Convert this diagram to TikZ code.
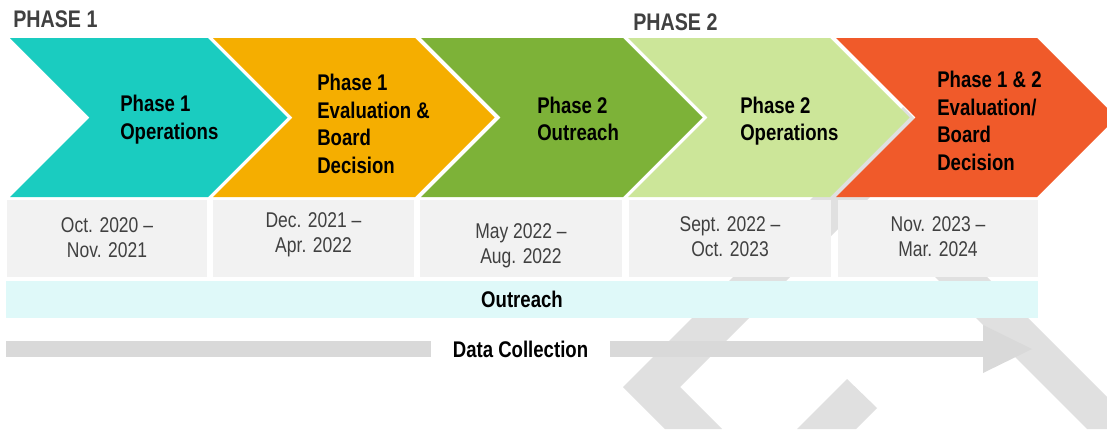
\documentclass[tikz,border=0pt]{standalone}
\usepackage{fontspec}
\setmainfont{Liberation Sans}[FakeStretch=0.82]
\usepackage{tikz}
\usetikzlibrary{arrows.meta}

\definecolor{chteal}{HTML}{1ACCC0}
\definecolor{chorange}{HTML}{F5AE00}
\definecolor{chgreen}{HTML}{7DB238}
\definecolor{chlight}{HTML}{CCE699}
\definecolor{chred}{HTML}{F05A2A}
\definecolor{boxgray}{HTML}{F2F2F2}
\definecolor{bandcyan}{HTML}{DFF9F9}
\definecolor{bargray}{HTML}{D9D9D9}
\definecolor{markgray}{HTML}{E0E0E0}
\definecolor{textgray}{HTML}{404040}

\begin{document}
\begin{tikzpicture}
  [
    x=0.75pt, y=-0.75pt,
    >={Triangle[length=36.75pt, width=36pt, line width=0pt]},
    phase/.style    = {font=\bfseries\fontsize{18}{22}\selectfont, text=textgray,
                       anchor=base west, inner sep=0pt},
    stage/.style    = {font=\bfseries\fontsize{17}{20.6}\selectfont, align=left,
                       anchor=base west, inner sep=0pt},
    datetext/.style = {font=\fontsize{16}{18.75}\selectfont, text=textgray,
                       align=center, inner sep=0pt},
    band/.style     = {font=\bfseries\fontsize{17}{20}\selectfont, inner sep=0pt},
  ]

  \useasboundingbox (0,0) rectangle (1107,429);
  \fill[white] (0,0) rectangle (1107,429);

  % faint marks behind everything
  \fill[markgray] (903,107) -- (931.5,135.5) -- (680,387) -- (722,429)
    -- (665,429) -- (623,387) -- cycle;
  \fill[markgray] (847,379) -- (877,408) -- (856,429) -- (797,429) -- cycle;
  \fill[markgray] (900,242) -- (952,242) -- (1107,397) -- (1107,429)
    -- (1087,429) -- cycle;

  % the chevrons: left edge / width / colour
  \def\chtop{38}
  \def\chdep{79.5}
  \foreach \lx/\wd/\col in {10/198/chteal, 213/202/chorange, 421/202/chgreen,
                            628/202/chlight, 836/201/chred}
    {
      \fill[\col] (\lx,\chtop) -- ++(\wd,0) -- ++(\chdep,\chdep)
        -- ++(-\chdep,\chdep) -- ++(-\wd,0) -- ++(\chdep,-\chdep) -- cycle;
    }

  % date boxes under the chevrons
  \foreach \lx/\rx in {7/207, 213/414, 420/622, 629/831, 838/1038}
    \fill[boxgray] (\lx,200) rectangle (\rx,276.5);

  % headings
  \node (phase1) [phase] at (13,27) {PHASE 1};
  \node (phase2) [phase] at (633,30) {PHASE 2};

  % chevron labels (base is the last line)
  \node (ops1)  [stage] at (120,139)   {Phase 1\\Operations};
  \node (eval1) [stage] at (317,173)   {Phase 1\\Evaluation \&\\Board\\Decision};
  \node (out2)  [stage] at (537,140.5) {Phase 2\\Outreach};
  \node (ops2)  [stage] at (740,140.5) {Phase 2\\Operations};
  \node (eval2) [stage] at (937,170)   {Phase 1 \& 2\\Evaluation/\\Board\\Decision};

  % dates
  \node (date1) [datetext] at (107,238)   {Oct. 2020 –\\Nov. 2021};
  \node (date2) [datetext] at (313.5,235) {Dec. 2021 –\\Apr. 2022};
  \node (date3) [datetext] at (521,246)   {May 2022 –\\Aug. 2022};
  \node (date4) [datetext] at (730,237)   {Sept. 2022 –\\Oct. 2023};
  \node (date5) [datetext] at (938,237)   {Nov. 2023 –\\Mar. 2024};

  % outreach band
  \node (outreach) [band, fill=bandcyan, minimum width=774pt,
    minimum height=27.75pt] at (522,299.5) {Outreach};

  % data collection arrow, broken by its label
  \coordinate (dcstart) at (6,349);
  \coordinate (dcend) at (1032,349);
  \node (datacol) [band, minimum width=134.25pt] at (520.5,349) {Data Collection};
  \draw[bargray, line width=12pt] (dcstart) -- (datacol.west);
  \draw[bargray, line width=12pt, ->] (datacol.east) -- (dcend);
\end{tikzpicture}
\end{document}
